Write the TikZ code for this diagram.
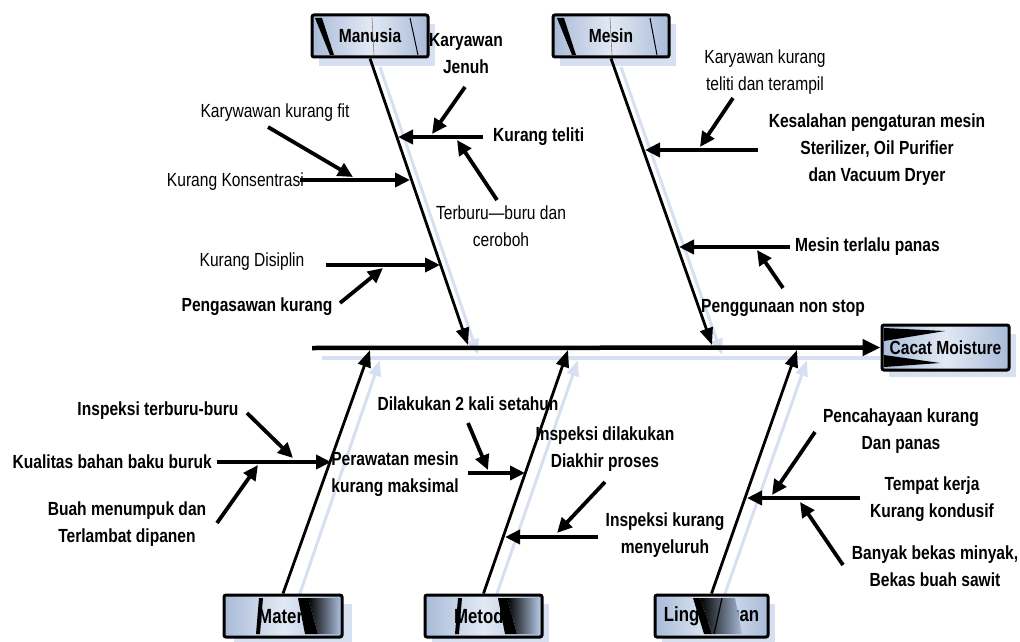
\documentclass[tikz,border=0pt]{standalone}
\usepackage{fontspec}
\setmainfont{Liberation Sans}[FakeStretch=0.82]
\usetikzlibrary{arrows.meta}
\definecolor{shadowblue}{HTML}{D6E0F1}
\definecolor{boxA}{HTML}{A9BBD8}
\definecolor{boxB}{HTML}{E2E9F4}
\begin{document}
\begin{tikzpicture}[x=1pt,y=-1pt,
  every node/.style={inner sep=0pt, align=center, font=\fontsize{19}{27}\selectfont},
  bold/.style={font=\fontsize{19}{27}\selectfont\bfseries},
  catbox/.style={draw=black, line width=3pt, rounded corners=2pt, left color=boxA, right color=boxA, middle color=boxB, minimum width=116pt, minimum height=42pt, font=\fontsize{19}{23}\selectfont\bfseries},
  botbox/.style={catbox, font=\fontsize{20.5}{23}\selectfont\bfseries},
  shadowline/.style={draw=shadowblue, line width=3pt, -{Triangle[length=16pt,width=12pt]}},
  bone/.style={line width=2.8pt, -{Triangle[length=17pt,width=13pt]}},
  spine/.style={line width=4.5pt, -{Triangle[length=18pt,width=16pt]}},
  cause/.style={line width=3.8pt, -{Triangle[length=15pt,width=14pt]}},
  streak/.style={fill=black, draw=none}
]
\useasboundingbox (0,0) rectangle (1020,642);
% ---------- box shadows ----------
\fill[shadowblue] (319,24) rectangle (435,66);
\fill[shadowblue] (560,24) rectangle (676,66);
\fill[shadowblue] (889,334) rectangle (1016,377);
\fill[shadowblue] (234,604) rectangle (352,642);
\fill[shadowblue] (432,604) rectangle (549,642);
\fill[shadowblue] (662,604) rectangle (775,642);
% ---------- coordinates ----------
\coordinate (spineStart) at (312,348);
\coordinate (manTip) at (468,345);
\coordinate (mesTip) at (712,345);
\coordinate (matTip) at (370,350);
\coordinate (metTip) at (568,350);
\coordinate (linTip) at (797,350);
% ---------- line shadows ----------
\draw[shadowblue, line width=4.5pt] (322,358) -- (880,358);
\draw[shadowline] (380,67) -- (478,355);
\draw[shadowline] (621,67) -- (722,355);
\draw[shadowline] (296,605) -- (380,360);
\draw[shadowline] (493,605) -- (578,360);
\draw[shadowline] (721,605) -- (807,360);
% ---------- boxes ----------
\node[catbox] (manusia) at (370,36) {Manusia};
\node[catbox] (mesin) at (611,36) {Mesin};
\node[catbox, minimum width=127pt, minimum height=45pt] (cacat) at (945.5,347.5) {Cacat Moisture};
\node[botbox, minimum width=118pt] (materi) at (283,616) {Materi};
\node[botbox, minimum width=117pt] (metode) at (483.5,616) {Metode};
\node[botbox, minimum width=113pt] (lingkungan) at (711.5,616) {Lingkungan};
% streaks in boxes
\fill[streak] (315,18) -- (322,18) -- (334,55) -- (330,55) -- cycle;
\draw[black, line width=1pt] (410,18) -- (418,55);
\draw[gray, line width=0.6pt] (372,18) -- (374,55);
\fill[streak] (557,18) -- (564,18) -- (576,55) -- (572,55) -- cycle;
\draw[black, line width=1pt] (650,18) -- (657,55);
\draw[gray, line width=0.6pt] (610,18) -- (612,55);
\fill[streak] (884,328) -- (945,331) -- (884,341) -- cycle;
\fill[streak] (884,367) -- (940,363) -- (884,355) -- cycle;
% Materi
\fill[streak] (259,598) -- (263,598) -- (260,634) -- (256,634) -- cycle;
\fill[streak] (298,598) -- (308,598) -- (318,634) -- (305,634) -- cycle;
\shade[left color=black, right color=boxA] (308,598) -- (340,598) -- (340,634) -- (318,634) -- cycle;
% Metode
\fill[streak] (458,598) -- (462,598) -- (459,634) -- (455,634) -- cycle;
\fill[streak] (498,598) -- (507,598) -- (517,634) -- (505,634) -- cycle;
\shade[left color=black, right color=boxA] (507,598) -- (538,598) -- (538,634) -- (517,634) -- cycle;
% Lingkungan
\fill[streak] (693,598) -- (700,598) -- (712,634) -- (704,634) -- cycle;
\shade[left color=black, right color=boxA] (700,598) -- (735,598) -- (742,634) -- (712,634) -- cycle;
\draw[black, line width=1.2pt] (722,598) -- (714,634);
% ---------- spine and bones ----------
\draw[spine] (spineStart) -- (cacat.west);
\draw[bone] (manusia.south) -- (manTip);
\draw[bone] (mesin.south) -- (mesTip);
\draw[bone] (materi.north) -- (matTip);
\draw[bone] (metode.north) -- (metTip);
\draw[bone] (lingkungan.north) -- (linTip);
% ---------- texts ----------
\node[bold] (tJenuh) at (466,54) {Karyawan\\Jenuh};
\node[bold, anchor=west] (tTeliti) at (493,137) {Kurang teliti};
\node (tTerburu) at (501,226) {Terburu—buru dan\\ceroboh};
\node (tFit) at (275,113) {Karywawan kurang fit};
\node[anchor=east] (tKonsen) at (304,182) {Kurang Konsentrasi};
\node (tDisiplin) at (252,262) {Kurang Disiplin};
\node[bold] (tPengas) at (257,307) {Pengasawan kurang};
\node (tKurTel) at (765,72) {Karyawan kurang\\teliti dan terampil};
\node[bold] (tKesal) at (877,150) {Kesalahan pengaturan mesin\\Sterilizer, Oil Purifier\\dan Vacuum Dryer};
\node[bold, anchor=west] (tPanas) at (795,247) {Mesin terlalu panas};
\node[bold] (tNonstop) at (783,308) {Penggunaan non stop};
\node[bold] (tInspBuru) at (158,411) {Inspeksi terburu-buru};
\node[bold, anchor=east] (tKualitas) at (212,462) {Kualitas bahan baku buruk};
\node[bold] (tBuah) at (127,524) {Buah menumpuk dan\\Terlambat dipanen};
\node[bold] (tPerawatan) at (395,474) {Perawatan mesin\\kurang maksimal};
\node[bold] (tDilakukan) at (468,404) {Dilakukan 2 kali setahun};
\node[bold] (tInspDil) at (605,449) {Inspeksi dilakukan\\Diakhir proses};
\node[bold] (tInspKur) at (665,535) {Inspeksi kurang\\menyeluruh};
\node[bold] (tPencah) at (901,431) {Pencahayaan kurang\\Dan panas};
\node[bold] (tTempat) at (932,499) {Tempat kerja\\Kurang kondusif};
\node[bold] (tBanyak) at (935,566) {Banyak bekas minyak,\\Bekas buah sawit};
% ---------- cause arrows: Manusia ----------
\coordinate (c1s) at (483,137); \coordinate (c1t) at (398,137);
\coordinate (c1as) at (465,87); \coordinate (c1at) at (432,134);
\coordinate (c1bs) at (497,200); \coordinate (c1bt) at (457,140);
\coordinate (c2s) at (300,180); \coordinate (c2t) at (410,180);
\coordinate (c2as) at (268,127); \coordinate (c2at) at (353,177);
\coordinate (c3s) at (326,265); \coordinate (c3t) at (440,265);
\coordinate (c3as) at (340,303); \coordinate (c3at) at (383,268);
\draw[cause] (c1s) -- (c1t);
\draw[cause] (c1as) -- (c1at);
\draw[cause] (c1bs) -- (c1bt);
\draw[cause] (c2s) -- (c2t);
\draw[cause] (c2as) -- (c2at);
\draw[cause] (c3s) -- (c3t);
\draw[cause] (c3as) -- (c3at);
% ---------- Mesin ----------
\coordinate (m1s) at (758,150); \coordinate (m1t) at (645,150);
\coordinate (m1as) at (733,98); \coordinate (m1at) at (700,147);
\coordinate (m2s) at (790,247); \coordinate (m2t) at (679,247);
\coordinate (m2as) at (783,288); \coordinate (m2at) at (757,250);
\draw[cause] (m1s) -- (m1t);
\draw[cause] (m1as) -- (m1at);
\draw[cause] (m2s) -- (m2t);
\draw[cause] (m2as) -- (m2at);
% ---------- Materi ----------
\coordinate (b1s) at (217,462); \coordinate (b1t) at (331,462);
\coordinate (b1as) at (247,413); \coordinate (b1at) at (293,458);
\coordinate (b1bs) at (217,523); \coordinate (b1bt) at (258,465);
\draw[cause] (b1s) -- (b1t);
\draw[cause] (b1as) -- (b1at);
\draw[cause] (b1bs) -- (b1bt);
% ---------- Metode ----------
\coordinate (d1s) at (468,473); \coordinate (d1t) at (525,473);
\coordinate (d1as) at (468,423); \coordinate (d1at) at (488,470);
\coordinate (d2s) at (598,537); \coordinate (d2t) at (505,537);
\coordinate (d2as) at (605,482); \coordinate (d2at) at (557,533);
\draw[cause] (d1s) -- (d1t);
\draw[cause] (d1as) -- (d1at);
\draw[cause] (d2s) -- (d2t);
\draw[cause] (d2as) -- (d2at);
% ---------- Lingkungan ----------
\coordinate (l1s) at (860,498); \coordinate (l1t) at (747,498);
\coordinate (l1as) at (815,432); \coordinate (l1at) at (772,495);
\coordinate (l1bs) at (843,565); \coordinate (l1bt) at (800,502);
\draw[cause] (l1s) -- (l1t);
\draw[cause] (l1as) -- (l1at);
\draw[cause] (l1bs) -- (l1bt);
\end{tikzpicture}
\end{document}
